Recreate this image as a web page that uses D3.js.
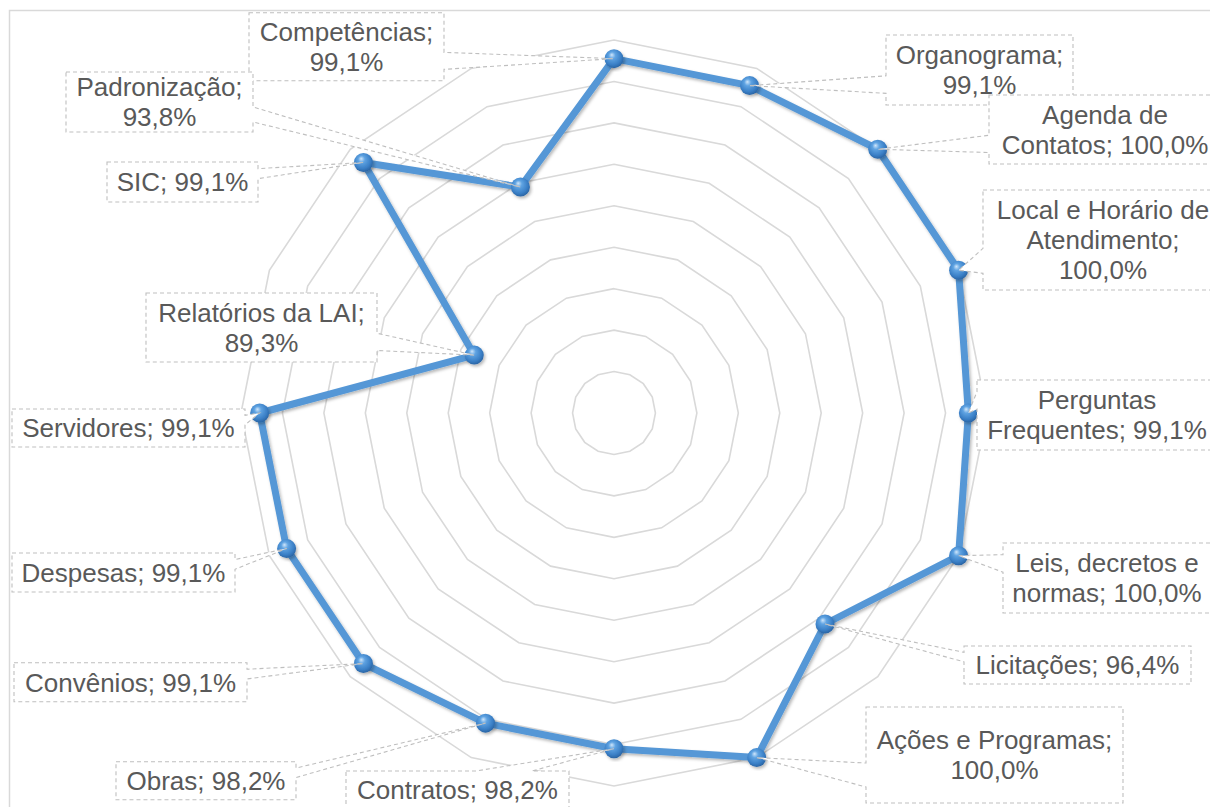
<!DOCTYPE html>
<html>
<head>
<meta charset="utf-8">
<script src="https://cdn.jsdelivr.net/npm/d3@7"></script>
<style>
  html, body { margin: 0; padding: 0; background: #ffffff; }
  svg { display: block; }
</style>
</head>
<body>
<svg id="chart" width="1210" height="807"></svg>
<script>
// ---------- DATA ----------
const categories = [
  "Competências", "Organograma", "Agenda de Contatos", "Local e Horário de Atendimento",
  "Perguntas Frequentes", "Leis, decretos e normas", "Licitações", "Ações e Programas",
  "Contratos", "Obras", "Convênios", "Despesas", "Servidores", "Relatórios da LAI",
  "SIC", "Padronização"
];
const values = [99.1, 99.1, 100.0, 100.0, 99.1, 100.0, 96.4, 100.0,
                98.2, 98.2, 99.1, 99.1, 99.1, 89.3, 99.1, 93.8];
const axisMin = 82;
const axisMax = 100;
const axisStep = 2;

// ---------- LAYOUT (label callout boxes: x, y, w, h, word indices for line breaks) ----------
const labelLayout = [
  { box: [249, 12.7, 195, 68], breaks: [1] },
  { box: [886, 35, 187, 70], breaks: [1] },
  { box: [989, 95, 232, 69], breaks: [2] },
  { box: [983, 190, 240, 100], breaks: [4, 5] },
  { box: [977, 380, 240, 70], breaks: [1] },
  { box: [1003, 543, 208, 70], breaks: [3] },
  { box: [964, 646, 227, 38], breaks: [] },
  { box: [866, 707, 257, 96], breaks: [3] },
  { box: [346, 771, 223, 38], breaks: [] },
  { box: [116, 761.7, 180, 38], breaks: [] },
  { box: [14, 662.7, 233, 39], breaks: [] },
  { box: [12, 553, 223, 39], breaks: [] },
  { box: [12, 409, 233, 38], breaks: [] },
  { box: [146, 293, 231, 69], breaks: [3] },
  { box: [107, 162, 151, 40], breaks: [] },
  { box: [66, 72, 187, 60], breaks: [1] }
];

// ---------- CHART ----------
const svg = d3.select("#chart");
const W = 1210, H = 807;
const cx = 614, cy = 413, R = 373;
const n = categories.length;

const rScale = d3.scaleLinear().domain([axisMin, axisMax]).range([0, R]);
const aScale = d3.scaleLinear().domain([0, n]).range([0, 2 * Math.PI]);
const ringValues = d3.range(axisMin + axisStep, axisMax + 0.001, axisStep);

const fmt = v => d3.format(".1f")(v).replace(".", ",") + "%";

const defs = svg.append("defs");
const grad = defs.append("radialGradient")
  .attr("id", "sphere").attr("cx", "45%").attr("cy", "40%").attr("r", "60%")
  .attr("fx", "38%").attr("fy", "30%");
grad.append("stop").attr("offset", "0%").attr("stop-color", "#cfe6fb");
grad.append("stop").attr("offset", "30%").attr("stop-color", "#5fa3e2");
grad.append("stop").attr("offset", "75%").attr("stop-color", "#3a7fc6");
grad.append("stop").attr("offset", "100%").attr("stop-color", "#2a64a3");

const shadow = defs.append("filter").attr("id", "shadow")
  .attr("x", "-20%").attr("y", "-20%").attr("width", "140%").attr("height", "140%");
shadow.append("feDropShadow").attr("dx", 1.5).attr("dy", 2).attr("stdDeviation", 1.8)
  .attr("flood-color", "#000").attr("flood-opacity", 0.28);

// chart area border
svg.append("rect")
  .attr("x", 9.5).attr("y", 10.5).attr("width", W + 20).attr("height", H + 20)
  .attr("fill", "none").attr("stroke", "#d9d9d9").attr("stroke-width", 1.5);

const g = svg.append("g").attr("transform", `translate(${cx},${cy})`);

// grid rings (polygons)
const ringLine = d3.lineRadial()
  .angle((d, i) => aScale(i))
  .radius(d => rScale(d))
  .curve(d3.curveLinearClosed);

g.selectAll("path.ring")
  .data(ringValues)
  .join("path")
  .attr("class", "ring")
  .attr("d", v => ringLine(d3.range(n).map(() => v)))
  .attr("fill", "none")
  .attr("stroke", "#d9d9d9")
  .attr("stroke-width", 1.6);

// series line
const seriesLine = d3.lineRadial()
  .angle((d, i) => aScale(i))
  .radius(d => rScale(d))
  .curve(d3.curveLinearClosed);

g.append("path")
  .attr("d", seriesLine(values))
  .attr("fill", "none")
  .attr("stroke", "#5597d6")
  .attr("stroke-width", 7)
  .attr("stroke-linejoin", "round")
  .attr("filter", "url(#shadow)");

const pt = (v, i) => {
  const a = aScale(i), r = rScale(v);
  return [cx + r * Math.sin(a), cy - r * Math.cos(a)];
};

// markers
svg.append("g").selectAll("circle")
  .data(values)
  .join("circle")
  .attr("cx", (v, i) => pt(v, i)[0])
  .attr("cy", (v, i) => pt(v, i)[1])
  .attr("r", 9.5)
  .attr("fill", "url(#sphere)")
  .attr("filter", "url(#shadow)");

// wedge rectangle callout (OOXML wedgeRectCallout geometry)
function wedgePath(x, y, w, h, tx, ty) {
  const hc = x + w / 2, vc = y + h / 2;
  const dxPos = tx - hc, dyPos = ty - vc;
  const dx = dxPos * h, dy = dyPos * w;
  if (Math.abs(dx) > Math.abs(dy)) {
    const y1 = y + h * (dyPos > 0 ? 7 : 2) / 12;
    const y2 = y + h * (dyPos > 0 ? 10 : 5) / 12;
    if (dxPos > 0) {
      return `M${x},${y}L${x + w},${y}L${x + w},${y1}L${tx},${ty}L${x + w},${y2}L${x + w},${y + h}L${x},${y + h}Z`;
    }
    return `M${x},${y}L${x + w},${y}L${x + w},${y + h}L${x},${y + h}L${x},${y2}L${tx},${ty}L${x},${y1}Z`;
  } else {
    const x1 = x + w * (dxPos > 0 ? 7 : 2) / 12;
    const x2 = x + w * (dxPos > 0 ? 10 : 5) / 12;
    if (dyPos > 0) {
      return `M${x},${y}L${x + w},${y}L${x + w},${y + h}L${x2},${y + h}L${tx},${ty}L${x1},${y + h}L${x},${y + h}Z`;
    }
    return `M${x},${y}L${x1},${y}L${tx},${ty}L${x2},${y}L${x + w},${y}L${x + w},${y + h}L${x},${y + h}Z`;
  }
}

const fontSize = 26;
const lineGap = 30;
const labels = svg.append("g")
  .attr("font-family", "'Liberation Sans', Arial, sans-serif")
  .attr("font-size", fontSize)
  .attr("fill", "#595959");

categories.forEach((cat, i) => {
  const L = labelLayout[i];
  const [x, y, w, h] = L.box;
  const [tx, ty] = pt(values[i], i);
  labels.append("path")
    .attr("d", wedgePath(x, y, w, h, tx, ty))
    .attr("fill", "#ffffff")
    .attr("stroke", "#bfbfbf")
    .attr("stroke-width", 1.1)
    .attr("stroke-dasharray", "4,3");

  const words = `${cat}; ${fmt(values[i])}`.split(" ");
  const lines = [];
  let start = 0;
  L.breaks.concat([words.length]).forEach(b => {
    lines.push(words.slice(start, b).join(" "));
    start = b;
  });
  const nL = lines.length;
  const mid = y + h / 2;
  const capH = fontSize * 0.716;
  lines.forEach((t, k) => {
    labels.append("text")
      .attr("x", x + w / 2)
      .attr("y", mid + (k - (nL - 1) / 2) * lineGap + capH / 2)
      .attr("text-anchor", "middle")
      .text(t);
  });
});
</script>
</body>
</html>
